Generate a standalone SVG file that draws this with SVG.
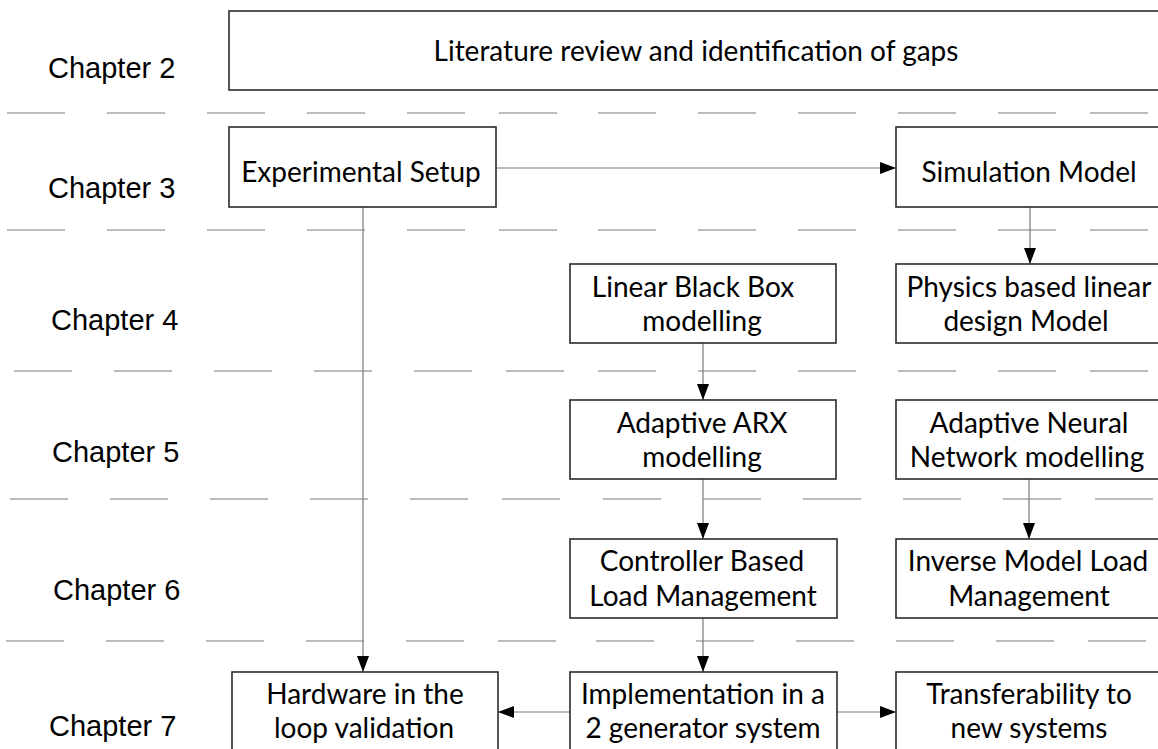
<svg xmlns="http://www.w3.org/2000/svg" width="1158" height="749" viewBox="0 0 1158 749">
  <style>
    .lane { stroke: #a6a6a6; stroke-width: 1.5; fill: none; stroke-dasharray: 58 42 58 42 58 42 58 42 58 34 58 1000; }
    .box { fill: #ffffff; stroke: #2b2b2b; stroke-width: 1.6; }
    .lbl { font-family: Lato, "Open Sans", sans-serif; font-size: 28px; fill: #000000; text-anchor: middle; }
    .ch { font-family: "Liberation Sans", Arial, sans-serif; font-size: 29px; fill: #000000; }
    .wire { stroke: #7a7a7a; stroke-width: 1.2; fill: none; marker-end: url(#arrow); }
  </style>
  <defs>
    <marker id="arrow" markerUnits="userSpaceOnUse" markerWidth="16" markerHeight="12" refX="16" refY="6" orient="auto">
      <path d="M0,0 L16,6 L0,12 z" fill="#000000"/>
    </marker>
  </defs>

  <rect width="1158" height="749" fill="#ffffff"/>

  <!-- chapter separators -->
  <g id="lanes">
    <line class="lane" x1="7" y1="113" x2="557" y2="113"/>
    <line class="lane" x1="598" y1="113" x2="1148" y2="113"/>
    <line class="lane" x1="7" y1="230" x2="557" y2="230"/>
    <line class="lane" x1="598" y1="230" x2="1148" y2="230"/>
    <line class="lane" x1="14" y1="371" x2="564" y2="371"/>
    <line class="lane" x1="598" y1="371" x2="1148" y2="371"/>
    <line class="lane" x1="10" y1="499" x2="560" y2="499"/>
    <line class="lane" x1="603" y1="499" x2="1153" y2="499"/>
    <line class="lane" x1="6" y1="641" x2="556" y2="641"/>
    <line class="lane" x1="596" y1="641" x2="1146" y2="641"/>
  </g>

  <!-- chapter labels -->
  <g id="chapters">
    <text class="ch" x="48" y="78">Chapter 2</text>
    <text class="ch" x="48" y="198">Chapter 3</text>
    <text class="ch" x="51" y="330">Chapter 4</text>
    <text class="ch" x="52" y="462">Chapter 5</text>
    <text class="ch" x="53" y="600">Chapter 6</text>
    <text class="ch" x="49" y="736">Chapter 7</text>
  </g>

  <!-- connectors -->
  <g id="connectors">
    <line class="wire" x1="496" y1="168" x2="896" y2="168"/>
    <line class="wire" x1="363" y1="207" x2="363" y2="672"/>
    <line class="wire" x1="1030" y1="207" x2="1030" y2="264"/>
    <line class="wire" x1="703" y1="343" x2="703" y2="400"/>
    <line class="wire" x1="703" y1="479" x2="703" y2="539"/>
    <line class="wire" x1="1029" y1="479" x2="1029" y2="539"/>
    <line class="wire" x1="703" y1="618" x2="703" y2="672"/>
    <line class="wire" x1="570" y1="712" x2="498" y2="712"/>
    <line class="wire" x1="837" y1="712" x2="896" y2="712"/>
  </g>

  <!-- nodes -->
  <g id="literature">
    <rect class="box" x="229" y="11" width="934" height="79"/>
    <text class="lbl" x="696" y="61">Literature review and identification of gaps</text>
  </g>
  <g id="experimental-setup">
    <rect class="box" x="229" y="127" width="267" height="80"/>
    <text class="lbl" x="361" y="182">Experimental Setup</text>
  </g>
  <g id="simulation-model">
    <rect class="box" x="896" y="127" width="267" height="80"/>
    <text class="lbl" x="1029" y="182">Simulation Model</text>
  </g>
  <g id="linear-black-box">
    <rect class="box" x="570" y="264" width="266" height="79"/>
    <text class="lbl" x="693" y="297">Linear Black Box</text>
    <text class="lbl" x="702" y="331">modelling</text>
  </g>
  <g id="physics-model">
    <rect class="box" x="896" y="264" width="267" height="79"/>
    <text class="lbl" x="1029" y="297">Physics based linear</text>
    <text class="lbl" x="1026" y="331">design Model</text>
  </g>
  <g id="adaptive-arx">
    <rect class="box" x="570" y="400" width="266" height="79"/>
    <text class="lbl" x="702" y="433">Adaptive ARX</text>
    <text class="lbl" x="702" y="467">modelling</text>
  </g>
  <g id="adaptive-neural">
    <rect class="box" x="896" y="400" width="267" height="79"/>
    <text class="lbl" x="1029" y="433">Adaptive Neural</text>
    <text class="lbl" x="1027" y="467">Network modelling</text>
  </g>
  <g id="controller-load">
    <rect class="box" x="570" y="539" width="267" height="79"/>
    <text class="lbl" x="702" y="571">Controller Based</text>
    <text class="lbl" x="703" y="606">Load Management</text>
  </g>
  <g id="inverse-load">
    <rect class="box" x="896" y="539" width="267" height="79"/>
    <text class="lbl" x="1028" y="571">Inverse Model Load</text>
    <text class="lbl" x="1029" y="606">Management</text>
  </g>
  <g id="hardware-loop">
    <rect class="box" x="232" y="672" width="266" height="90"/>
    <text class="lbl" x="365" y="704">Hardware in the</text>
    <text class="lbl" x="364" y="738">loop validation</text>
  </g>
  <g id="two-generator">
    <rect class="box" x="570" y="672" width="267" height="90"/>
    <text class="lbl" x="703" y="704">Implementation in a</text>
    <text class="lbl" x="703" y="738">2 generator system</text>
  </g>
  <g id="transferability">
    <rect class="box" x="896" y="672" width="267" height="90"/>
    <text class="lbl" x="1029" y="704">Transferability to</text>
    <text class="lbl" x="1029" y="738">new systems</text>
  </g>
</svg>
